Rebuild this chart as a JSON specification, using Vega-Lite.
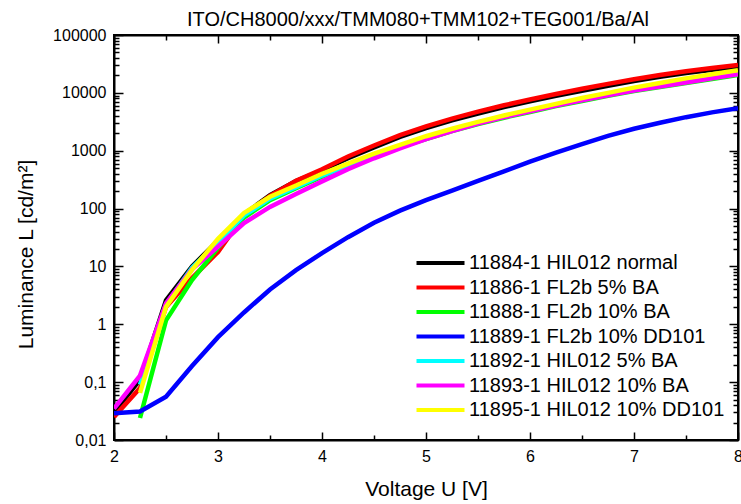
{
  "$schema": "https://vega.github.io/schema/vega-lite/v6.json",
  "width": 624,
  "height": 405,
  "autosize": {"type": "none"},
  "padding": {"left": 114, "top": 35, "right": 3, "bottom": 64},
  "background": "white",
  "title": {"text": "ITO/CH8000/xxx/TMM080+TMM102+TEG001/Ba/Al", "fontSize": 20, "font": "Liberation Sans", "fontWeight": "normal", "baseline": "alphabetic", "offset": -19, "dx": -8, "color": "black"},
  "config": {
    "view": {"stroke": "black", "strokeWidth": 2},
    "font": "Liberation Sans",
    "axis": {"grid": false, "domainColor": "black", "domainWidth": 2, "tickColor": "black", "tickWidth": 1.5, "labelColor": "black", "labelFont": "Liberation Sans", "labelFontSize": 16, "titleFont": "Liberation Sans", "titleFontWeight": "normal", "titleColor": "black", "titleFontSize": 21},
    "legend": {"orient": "none", "legendX": 316.5, "legendY": 218, "symbolType": "M-4.8,0L4.8,0", "symbolSize": 100, "symbolStrokeWidth": 4, "labelFontSize": 20, "labelFont": "Liberation Sans", "labelColor": "black", "labelOffset": 18.5, "rowPadding": 4.5, "padding": 0, "labelLimit": 400}
  },
  "data": {"values": [
    {"s":"11884-1 HIL012 normal","v":2,"L":0.03},{"s":"11884-1 HIL012 normal","v":2.25,"L":0.11},{"s":"11884-1 HIL012 normal","v":2.5,"L":2.6},{"s":"11884-1 HIL012 normal","v":2.75,"L":10},{"s":"11884-1 HIL012 normal","v":3,"L":28},{"s":"11884-1 HIL012 normal","v":3.25,"L":80},{"s":"11884-1 HIL012 normal","v":3.5,"L":170},{"s":"11884-1 HIL012 normal","v":3.75,"L":300},{"s":"11884-1 HIL012 normal","v":4,"L":460},{"s":"11884-1 HIL012 normal","v":4.25,"L":740},{"s":"11884-1 HIL012 normal","v":4.5,"L":1140},{"s":"11884-1 HIL012 normal","v":4.75,"L":1730},{"s":"11884-1 HIL012 normal","v":5,"L":2450},{"s":"11884-1 HIL012 normal","v":5.25,"L":3340},{"s":"11884-1 HIL012 normal","v":5.5,"L":4400},{"s":"11884-1 HIL012 normal","v":5.75,"L":5670},{"s":"11884-1 HIL012 normal","v":6,"L":7130},{"s":"11884-1 HIL012 normal","v":6.25,"L":8880},{"s":"11884-1 HIL012 normal","v":6.5,"L":10900},{"s":"11884-1 HIL012 normal","v":6.75,"L":13300},{"s":"11884-1 HIL012 normal","v":7,"L":16000},{"s":"11884-1 HIL012 normal","v":7.25,"L":19000},{"s":"11884-1 HIL012 normal","v":7.5,"L":22000},{"s":"11884-1 HIL012 normal","v":7.75,"L":25000},{"s":"11884-1 HIL012 normal","v":8,"L":28000},
    {"s":"11886-1 FL2b 5% BA","v":2,"L":0.025},{"s":"11886-1 FL2b 5% BA","v":2.25,"L":0.079},{"s":"11886-1 FL2b 5% BA","v":2.5,"L":2.0},{"s":"11886-1 FL2b 5% BA","v":2.75,"L":6.3},{"s":"11886-1 FL2b 5% BA","v":3,"L":17.8},{"s":"11886-1 FL2b 5% BA","v":3.25,"L":76},{"s":"11886-1 FL2b 5% BA","v":3.5,"L":166},{"s":"11886-1 FL2b 5% BA","v":3.75,"L":302},{"s":"11886-1 FL2b 5% BA","v":4,"L":479},{"s":"11886-1 FL2b 5% BA","v":4.25,"L":794},{"s":"11886-1 FL2b 5% BA","v":4.5,"L":1230},{"s":"11886-1 FL2b 5% BA","v":4.75,"L":1862},{"s":"11886-1 FL2b 5% BA","v":5,"L":2630},{"s":"11886-1 FL2b 5% BA","v":5.25,"L":3590},{"s":"11886-1 FL2b 5% BA","v":5.5,"L":4730},{"s":"11886-1 FL2b 5% BA","v":5.75,"L":6100},{"s":"11886-1 FL2b 5% BA","v":6,"L":7670},{"s":"11886-1 FL2b 5% BA","v":6.25,"L":9550},{"s":"11886-1 FL2b 5% BA","v":6.5,"L":11750},{"s":"11886-1 FL2b 5% BA","v":6.75,"L":14290},{"s":"11886-1 FL2b 5% BA","v":7,"L":17180},{"s":"11886-1 FL2b 5% BA","v":7.25,"L":20420},{"s":"11886-1 FL2b 5% BA","v":7.5,"L":23710},{"s":"11886-1 FL2b 5% BA","v":7.75,"L":26920},{"s":"11886-1 FL2b 5% BA","v":8,"L":30200},
    {"s":"11888-1 FL2b 10% BA","v":2.25,"L":0.024},{"s":"11888-1 FL2b 10% BA","v":2.5,"L":1.17},{"s":"11888-1 FL2b 10% BA","v":2.75,"L":5.8},{"s":"11888-1 FL2b 10% BA","v":3,"L":21},{"s":"11888-1 FL2b 10% BA","v":3.25,"L":70},{"s":"11888-1 FL2b 10% BA","v":3.5,"L":140},{"s":"11888-1 FL2b 10% BA","v":3.75,"L":225},{"s":"11888-1 FL2b 10% BA","v":4,"L":355},{"s":"11888-1 FL2b 10% BA","v":4.25,"L":525},{"s":"11888-1 FL2b 10% BA","v":4.5,"L":795},{"s":"11888-1 FL2b 10% BA","v":4.75,"L":1150},{"s":"11888-1 FL2b 10% BA","v":5,"L":1580},{"s":"11888-1 FL2b 10% BA","v":5.25,"L":2190},{"s":"11888-1 FL2b 10% BA","v":5.5,"L":2880},{"s":"11888-1 FL2b 10% BA","v":5.75,"L":3720},{"s":"11888-1 FL2b 10% BA","v":6,"L":4680},{"s":"11888-1 FL2b 10% BA","v":6.25,"L":5890},{"s":"11888-1 FL2b 10% BA","v":6.5,"L":7240},{"s":"11888-1 FL2b 10% BA","v":6.75,"L":8910},{"s":"11888-1 FL2b 10% BA","v":7,"L":10700},{"s":"11888-1 FL2b 10% BA","v":7.25,"L":12600},{"s":"11888-1 FL2b 10% BA","v":7.5,"L":14800},{"s":"11888-1 FL2b 10% BA","v":7.75,"L":17400},{"s":"11888-1 FL2b 10% BA","v":8,"L":20400},
    {"s":"11889-1 FL2b 10% DD101","v":2,"L":0.029},{"s":"11889-1 FL2b 10% DD101","v":2.25,"L":0.031},{"s":"11889-1 FL2b 10% DD101","v":2.5,"L":0.056},{"s":"11889-1 FL2b 10% DD101","v":2.75,"L":0.19},{"s":"11889-1 FL2b 10% DD101","v":3,"L":0.6},{"s":"11889-1 FL2b 10% DD101","v":3.25,"L":1.6},{"s":"11889-1 FL2b 10% DD101","v":3.5,"L":4.0},{"s":"11889-1 FL2b 10% DD101","v":3.75,"L":8.6},{"s":"11889-1 FL2b 10% DD101","v":4,"L":17},{"s":"11889-1 FL2b 10% DD101","v":4.25,"L":32},{"s":"11889-1 FL2b 10% DD101","v":4.5,"L":57},{"s":"11889-1 FL2b 10% DD101","v":4.75,"L":92},{"s":"11889-1 FL2b 10% DD101","v":5,"L":140},{"s":"11889-1 FL2b 10% DD101","v":5.25,"L":205},{"s":"11889-1 FL2b 10% DD101","v":5.5,"L":300},{"s":"11889-1 FL2b 10% DD101","v":5.75,"L":440},{"s":"11889-1 FL2b 10% DD101","v":6,"L":650},{"s":"11889-1 FL2b 10% DD101","v":6.25,"L":930},{"s":"11889-1 FL2b 10% DD101","v":6.5,"L":1300},{"s":"11889-1 FL2b 10% DD101","v":6.75,"L":1800},{"s":"11889-1 FL2b 10% DD101","v":7,"L":2400},{"s":"11889-1 FL2b 10% DD101","v":7.25,"L":3050},{"s":"11889-1 FL2b 10% DD101","v":7.5,"L":3800},{"s":"11889-1 FL2b 10% DD101","v":7.75,"L":4600},{"s":"11889-1 FL2b 10% DD101","v":8,"L":5400},
    {"s":"11892-1 HIL012 5% BA","v":2.25,"L":0.09},{"s":"11892-1 HIL012 5% BA","v":2.5,"L":2.2},{"s":"11892-1 HIL012 5% BA","v":2.75,"L":9.5},{"s":"11892-1 HIL012 5% BA","v":3,"L":26},{"s":"11892-1 HIL012 5% BA","v":3.25,"L":76},{"s":"11892-1 HIL012 5% BA","v":3.5,"L":148},{"s":"11892-1 HIL012 5% BA","v":3.75,"L":234},{"s":"11892-1 HIL012 5% BA","v":4,"L":372},{"s":"11892-1 HIL012 5% BA","v":4.25,"L":550},{"s":"11892-1 HIL012 5% BA","v":4.5,"L":830},{"s":"11892-1 HIL012 5% BA","v":4.75,"L":1200},{"s":"11892-1 HIL012 5% BA","v":5,"L":1660},{"s":"11892-1 HIL012 5% BA","v":5.25,"L":2290},{"s":"11892-1 HIL012 5% BA","v":5.5,"L":3020},{"s":"11892-1 HIL012 5% BA","v":5.75,"L":3890},{"s":"11892-1 HIL012 5% BA","v":6,"L":4900},{"s":"11892-1 HIL012 5% BA","v":6.25,"L":6170},{"s":"11892-1 HIL012 5% BA","v":6.5,"L":7590},{"s":"11892-1 HIL012 5% BA","v":6.75,"L":9330},{"s":"11892-1 HIL012 5% BA","v":7,"L":11200},{"s":"11892-1 HIL012 5% BA","v":7.25,"L":13200},{"s":"11892-1 HIL012 5% BA","v":7.5,"L":15500},{"s":"11892-1 HIL012 5% BA","v":7.75,"L":18200},{"s":"11892-1 HIL012 5% BA","v":8,"L":21400},
    {"s":"11893-1 HIL012 10% BA","v":2,"L":0.035},{"s":"11893-1 HIL012 10% BA","v":2.25,"L":0.13},{"s":"11893-1 HIL012 10% BA","v":2.5,"L":2.3},{"s":"11893-1 HIL012 10% BA","v":2.75,"L":8.9},{"s":"11893-1 HIL012 10% BA","v":3,"L":22},{"s":"11893-1 HIL012 10% BA","v":3.25,"L":56},{"s":"11893-1 HIL012 10% BA","v":3.5,"L":107},{"s":"11893-1 HIL012 10% BA","v":3.75,"L":178},{"s":"11893-1 HIL012 10% BA","v":4,"L":295},{"s":"11893-1 HIL012 10% BA","v":4.25,"L":480},{"s":"11893-1 HIL012 10% BA","v":4.5,"L":740},{"s":"11893-1 HIL012 10% BA","v":4.75,"L":1100},{"s":"11893-1 HIL012 10% BA","v":5,"L":1580},{"s":"11893-1 HIL012 10% BA","v":5.25,"L":2190},{"s":"11893-1 HIL012 10% BA","v":5.5,"L":2950},{"s":"11893-1 HIL012 10% BA","v":5.75,"L":3800},{"s":"11893-1 HIL012 10% BA","v":6,"L":4790},{"s":"11893-1 HIL012 10% BA","v":6.25,"L":6030},{"s":"11893-1 HIL012 10% BA","v":6.5,"L":7410},{"s":"11893-1 HIL012 10% BA","v":6.75,"L":9120},{"s":"11893-1 HIL012 10% BA","v":7,"L":11000},{"s":"11893-1 HIL012 10% BA","v":7.25,"L":12900},{"s":"11893-1 HIL012 10% BA","v":7.5,"L":15100},{"s":"11893-1 HIL012 10% BA","v":7.75,"L":17800},{"s":"11893-1 HIL012 10% BA","v":8,"L":21000},
    {"s":"11895-1 HIL012 10% DD101","v":2.25,"L":0.065},{"s":"11895-1 HIL012 10% DD101","v":2.5,"L":2.0},{"s":"11895-1 HIL012 10% DD101","v":2.75,"L":8.7},{"s":"11895-1 HIL012 10% DD101","v":3,"L":30},{"s":"11895-1 HIL012 10% DD101","v":3.25,"L":84},{"s":"11895-1 HIL012 10% DD101","v":3.5,"L":160},{"s":"11895-1 HIL012 10% DD101","v":3.75,"L":250},{"s":"11895-1 HIL012 10% DD101","v":4,"L":400},{"s":"11895-1 HIL012 10% DD101","v":4.25,"L":600},{"s":"11895-1 HIL012 10% DD101","v":4.5,"L":890},{"s":"11895-1 HIL012 10% DD101","v":4.75,"L":1260},{"s":"11895-1 HIL012 10% DD101","v":5,"L":1780},{"s":"11895-1 HIL012 10% DD101","v":5.25,"L":2400},{"s":"11895-1 HIL012 10% DD101","v":5.5,"L":3160},{"s":"11895-1 HIL012 10% DD101","v":5.75,"L":4070},{"s":"11895-1 HIL012 10% DD101","v":6,"L":5130},{"s":"11895-1 HIL012 10% DD101","v":6.25,"L":6460},{"s":"11895-1 HIL012 10% DD101","v":6.5,"L":8130},{"s":"11895-1 HIL012 10% DD101","v":6.75,"L":10000},{"s":"11895-1 HIL012 10% DD101","v":7,"L":12300},{"s":"11895-1 HIL012 10% DD101","v":7.25,"L":14800},{"s":"11895-1 HIL012 10% DD101","v":7.5,"L":17800},{"s":"11895-1 HIL012 10% DD101","v":7.75,"L":20900},{"s":"11895-1 HIL012 10% DD101","v":8,"L":24500}
  ]},
  "layer": [
    {
      "mark": {"type": "line", "strokeWidth": 4.5, "clip": true},
      "encoding": {
        "x": {"field": "v", "type": "quantitative", "scale": {"domain": [2, 8], "nice": false, "zero": false},
          "axis": {"orient": "bottom", "values": [2, 2.5, 3, 3.5, 4, 4.5, 5, 5.5, 6, 6.5, 7, 7.5, 8], "labelExpr": "datum.value % 1 === 0 ? format(datum.value, 'd') : ''", "tickSize": {"condition": {"test": "datum.value % 1 === 0", "value": -8}, "value": -5}, "labelPadding": 16, "labelBaseline": "top", "title": "Voltage U [V]", "titleX": 312, "titleY": 55, "titleBaseline": "alphabetic", "titleAlign": "center", "labelFlush": false}},
        "y": {"field": "L", "type": "quantitative", "scale": {"type": "log", "domain": [0.01, 100000], "nice": false},
          "axis": {"orient": "left", "values": [0.01,0.02,0.03,0.04,0.05,0.06,0.07,0.08,0.09,0.1,0.2,0.3,0.4,0.5,0.6,0.7,0.8,0.9,1,2,3,4,5,6,7,8,9,10,20,30,40,50,60,70,80,90,100,200,300,400,500,600,700,800,900,1000,2000,3000,4000,5000,6000,7000,8000,9000,10000,20000,30000,40000,50000,60000,70000,80000,90000,100000], "labelExpr": "abs(log(datum.value)/LN10 - round(log(datum.value)/LN10)) < 0.000001 ? replace(format(datum.value, '~g'), '.', ',') : ''", "tickSize": {"condition": {"test": "abs(log(datum.value)/LN10 - round(log(datum.value)/LN10)) < 0.000001", "value": -9}, "value": -5}, "labelPadding": 17, "title": "Luminance L [cd/m²]", "titleX": -82, "titleY": 219, "titleAngle": -90, "titleAlign": "center", "titleBaseline": "alphabetic", "labelFlush": false}},
        "color": {"field": "s", "type": "nominal", "title": null,
          "scale": {"domain": ["11884-1 HIL012 normal", "11886-1 FL2b 5% BA", "11888-1 FL2b 10% BA", "11889-1 FL2b 10% DD101", "11892-1 HIL012 5% BA", "11893-1 HIL012 10% BA", "11895-1 HIL012 10% DD101"], "range": ["#000000", "#ff0000", "#00ff00", "#0000ff", "#00ffff", "#ff00ff", "#ffff00"]}},
        "order": {"field": "v"}
      }
    },
    {
      "mark": {"type": "point", "opacity": 0},
      "encoding": {
        "x": {"field": "v", "type": "quantitative",
          "axis": {"orient": "top", "values": [2, 2.5, 3, 3.5, 4, 4.5, 5, 5.5, 6, 6.5, 7, 7.5, 8], "labels": false, "title": null, "tickSize": {"condition": {"test": "datum.value % 1 === 0", "value": -8}, "value": -5}}},
        "y": {"field": "L", "type": "quantitative",
          "axis": {"orient": "right", "values": [0.01,0.02,0.03,0.04,0.05,0.06,0.07,0.08,0.09,0.1,0.2,0.3,0.4,0.5,0.6,0.7,0.8,0.9,1,2,3,4,5,6,7,8,9,10,20,30,40,50,60,70,80,90,100,200,300,400,500,600,700,800,900,1000,2000,3000,4000,5000,6000,7000,8000,9000,10000,20000,30000,40000,50000,60000,70000,80000,90000,100000], "labels": false, "title": null, "tickSize": {"condition": {"test": "abs(log(datum.value)/LN10 - round(log(datum.value)/LN10)) < 0.000001", "value": -9}, "value": -5}}}
      }
    }
  ],
  "resolve": {"axis": {"x": "independent", "y": "independent"}}
}
